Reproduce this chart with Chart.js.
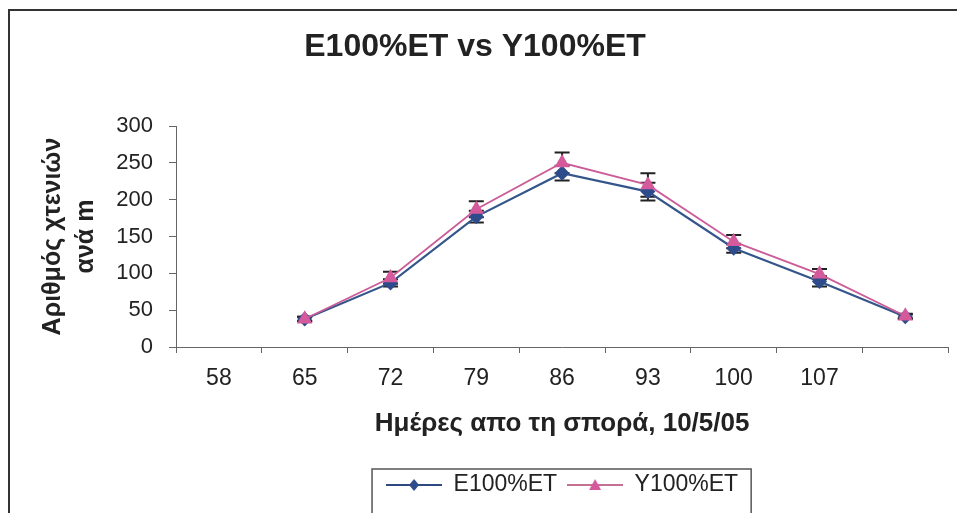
<!DOCTYPE html>
<html>
<head>
<meta charset="utf-8">
<script src="https://cdn.jsdelivr.net/npm/chart.js@4/dist/chart.umd.min.js"></script>
<style>
  html, body { margin: 0; padding: 0; background: #fff; }
  #wrap { width: 957px; height: 513px; position: relative; }
</style>
</head>
<body>
<div id="wrap"><canvas id="grafico"></canvas></div>
<script>
  // datos
  const dias = ['58', '65', '72', '79', '86', '93', '100', '107', ''];
  const e100 = [null, 38, 87, 177, 236, 211, 134, 89, 41];
  const y100 = [null, 38, 94, 187, 250, 220, 143, 99, 42];
  const errE = [null, 3, 5, 8, 10, 12, 6, 7, 3];
  const errY = [null, 3, 8, 11, 14, 16, 9, 7, 3];
  const errores = [errE, errY];

  const azul = '#34568B';
  const rosa = '#CC5C97';
  const fuente = "'Liberation Sans', Arial, sans-serif";

  // icono de la leyenda: linea con marcador en el centro
  function iconoLeyenda(color, colorMarca, forma) {
    const c = document.createElement('canvas');
    c.width = 56; c.height = 20;
    const g = c.getContext('2d');
    g.strokeStyle = color;
    g.lineWidth = forma === 'tri' ? 1.5 : 2;
    g.beginPath(); g.moveTo(0, 10); g.lineTo(56, 10); g.stroke();
    g.fillStyle = colorMarca;
    g.beginPath();
    if (forma === 'tri') {
      g.moveTo(28, 4); g.lineTo(34, 15); g.lineTo(22, 15);
    } else {
      g.moveTo(28, 4); g.lineTo(33, 10); g.lineTo(28, 16); g.lineTo(23, 10);
    }
    g.closePath(); g.fill();
    return c;
  }
  const iconos = [iconoLeyenda('#2E4A80', '#2E4C8C', 'rombo'), iconoLeyenda('#B0406E', '#D45A9C', 'tri')];

  const barrasError = {
    id: 'barrasError',
    beforeDatasetsDraw(chart) {
      const ctx = chart.ctx;
      const yEje = chart.scales.y;
      ctx.save();
      ctx.strokeStyle = '#222';
      ctx.lineWidth = 2;
      chart.data.datasets.forEach((ds, i) => {
        const meta = chart.getDatasetMeta(i);
        meta.data.forEach((p, j) => {
          const v = ds.data[j];
          const err = errores[i][j];
          if (v == null || err == null) return;
          const arriba = yEje.getPixelForValue(v + err);
          const abajo = yEje.getPixelForValue(v - err);
          ctx.beginPath();
          ctx.moveTo(p.x, arriba); ctx.lineTo(p.x, abajo);
          ctx.moveTo(p.x - 7.5, arriba); ctx.lineTo(p.x + 7.5, arriba);
          ctx.moveTo(p.x - 7.5, abajo); ctx.lineTo(p.x + 7.5, abajo);
          ctx.stroke();
        });
      });
      ctx.restore();
    }
  };

  // marco del grafico y recuadro de la leyenda
  const marco = {
    id: 'marco',
    afterDraw(chart) {
      const ctx = chart.ctx;
      ctx.save();
      ctx.strokeStyle = '#333';
      ctx.lineWidth = 2;
      ctx.beginPath();
      ctx.moveTo(9, 513); ctx.lineTo(9, 10); ctx.lineTo(957, 10);
      ctx.stroke();
      const hb = chart.legend.legendHitBoxes;
      if (hb && hb.length) {
        const izq = Math.min(...hb.map(h => h.left)) - 14;
        const der = Math.max(...hb.map(h => h.left + h.width)) + 13;
        const arr = chart.legend.top + 5.5;
        ctx.lineWidth = 1.5;
        ctx.strokeStyle = '#555';
        ctx.beginPath();
        ctx.moveTo(izq, 520); ctx.lineTo(izq, arr); ctx.lineTo(der, arr); ctx.lineTo(der, 520);
        ctx.stroke();
      }
      ctx.restore();
    }
  };

  new Chart(document.getElementById('grafico'), {
    type: 'line',
    data: {
      labels: dias,
      datasets: [
        {
          label: 'E100%ET',
          data: e100,
          borderColor: azul,
          backgroundColor: '#2E4C8C',
          borderWidth: 2.2,
          pointStyle: 'rectRot',
          pointRadius: 6,
          pointBorderColor: '#2E4C8C',
          tension: 0,
          order: 1
        },
        {
          label: 'Y100%ET',
          data: y100,
          borderColor: rosa,
          backgroundColor: '#D45A9C',
          borderWidth: 1.8,
          pointStyle: 'triangle',
          pointRadius: 7,
          pointBorderColor: '#D45A9C',
          tension: 0,
          order: 0
        }
      ]
    },
    options: {
      responsive: true,
      maintainAspectRatio: false,
      animation: false,
      layout: { padding: { left: 0, top: 0, right: 7, bottom: 6.5 } },
      plugins: {
        title: {
          display: true,
          text: 'E100%ET vs Y100%ET',
          color: '#222',
          font: { family: fuente, size: 32, weight: 'bold' },
          padding: { top: 27.8, bottom: 59.8 }
        },
        legend: {
          position: 'bottom',
          fullSize: false,
          labels: {
            color: '#222',
            font: { family: fuente, size: 23 },
            usePointStyle: true,
            pointStyleWidth: 56,
            padding: 10,
            sort: (a, b) => a.datasetIndex - b.datasetIndex,
            generateLabels(chart) {
              const items = Chart.defaults.plugins.legend.labels.generateLabels(chart);
              items.forEach(it => { it.pointStyle = iconos[it.datasetIndex]; });
              return items;
            }
          }
        },
        tooltip: { enabled: false }
      },
      scales: {
        x: {
          offset: true,
          grid: { offset: true, drawOnChartArea: false, tickLength: 6, color: '#666' },
          border: { color: '#666', width: 1 },
          ticks: { color: '#222', font: { family: fuente, size: 23 }, padding: 12, maxRotation: 0, autoSkip: false },
          title: {
            display: true,
            text: 'Ημέρες απο τη σπορά, 10/5/05',
            color: '#222',
            font: { family: fuente, size: 26, weight: 'bold' },
            padding: { top: 0, bottom: 23.9 }
          },
          afterFit(scale) { scale.height = 116.5; }
        },
        y: {
          min: 0,
          max: 300,
          grid: { drawOnChartArea: false, tickLength: 7, color: '#666' },
          border: { color: '#666', width: 1 },
          ticks: { stepSize: 50, color: '#222', font: { family: fuente, size: 22 }, padding: 16 },
          title: {
            display: true,
            text: ['Αριθμός χτενιών', 'ανά m'],
            color: '#222',
            font: { family: fuente, size: 25, weight: 'bold', lineHeight: 1.3 },
            padding: { top: 37, bottom: 0 }
          },
          afterFit(scale) { scale.width = 176; }
        }
      }
    },
    plugins: [barrasError, marco]
  });
</script>
</body>
</html>
